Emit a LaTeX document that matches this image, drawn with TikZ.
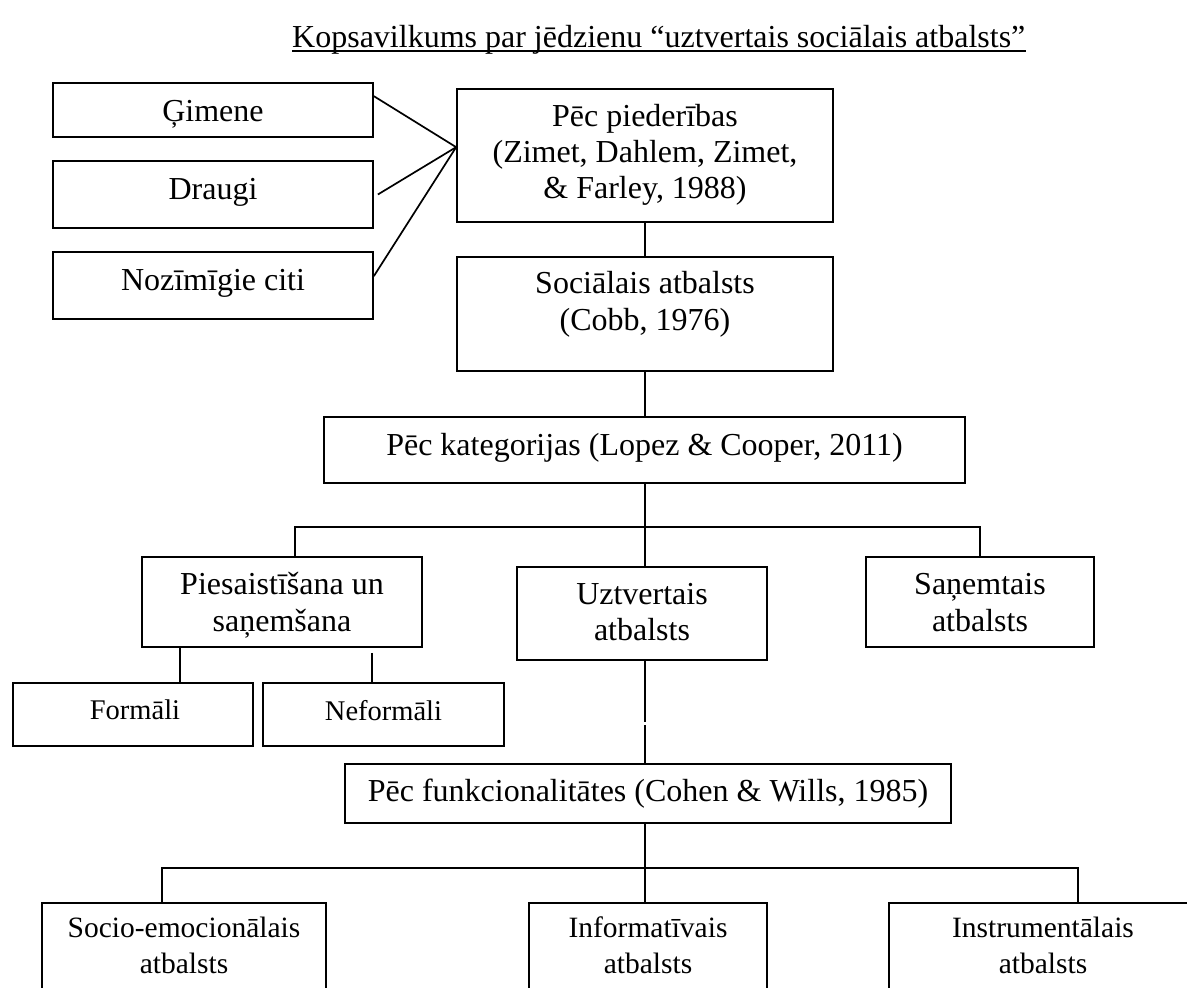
\documentclass[tikz,border=0pt]{standalone}
\usepackage{fontspec}
\setmainfont{Liberation Serif}
\usetikzlibrary{calc}
\begin{document}
\begin{tikzpicture}[x=1pt,y=-1pt,
  box/.style={draw, line width=1.7pt, inner sep=0pt, rectangle},
  link/.style={line width=1.7pt},
  % multi-line texts are placed by the baseline of their last line
  txt/.style={inner sep=0pt, align=center, anchor=base,
    font=\fontsize{32}{36.5}\selectfont},
  smalltxt/.style={txt, font=\fontsize{29.5}{36}\selectfont},
  tinytxt/.style={txt, font=\fontsize{28.5}{34}\selectfont}]
\fill[white] (0,0) rectangle (1187,988);
\useasboundingbox (0,0) rectangle (1187,988);
\clip (0,0) rectangle (1187,988);

% heading
\node[txt, anchor=base west] (title) at (292,47)
  {Kopsavilkums par jēdzienu “uztvertais sociālais atbalsts”};
\draw[line width=1.5pt] ($(title.base west)+(0,4)$) -- ($(title.base east)+(0,4)$);

% boxes
\node[box, minimum width=320, minimum height=54]  (gim)   at (213,110) {};
\node[box, minimum width=320, minimum height=67]  (dra)   at (213,194.5) {};
\node[box, minimum width=320, minimum height=67]  (noz)   at (213,285.5) {};
\node[box, minimum width=376, minimum height=133] (pied)  at (645,155.5) {};
\node[box, minimum width=376, minimum height=114] (soc)   at (645,314) {};
\node[box, minimum width=641, minimum height=66]  (kat)   at (644.5,450) {};
\node[box, minimum width=280, minimum height=90]  (pies)  at (282,602) {};
\node[box, minimum width=250, minimum height=93]  (uzt)   at (642,613.5) {};
\node[box, minimum width=228, minimum height=90]  (san)   at (980,602) {};
\node[box, minimum width=240, minimum height=63]  (form)  at (133,714.5) {};
\node[box, minimum width=241, minimum height=63]  (nef)   at (383.5,714.5) {};
\node[box, minimum width=606, minimum height=59]  (pf)    at (648,793.5) {};
\node[box, minimum width=284, minimum height=117] (socio) at (184,961.5) {};
\node[box, minimum width=238, minimum height=117] (info)  at (648,961.5) {};
\node[box, minimum width=308, minimum height=117] (instr) at (1043,961.5) {};

% texts
\node[txt] (gim-t) at (213,121) {Ģimene};
\node[txt] (dra-t) at (213,199.3) {Draugi};
\node[txt] (noz-t) at (213,290.7) {Nozīmīgie citi};
\node[txt, font=\fontsize{32}{36}\selectfont] (pied-t) at (645,198.5)
  {Pēc piederības\\(Zimet, Dahlem, Zimet,\\\& Farley, 1988)};
\node[txt, font=\fontsize{32}{37}\selectfont] (soc-t) at (645,330.5)
  {Sociālais atbalsts\\(Cobb, 1976)};
\node[txt] (kat-t) at (644.5,455) {Pēc kategorijas (Lopez \& Cooper, 2011)};
\node[txt, font=\fontsize{32}{37}\selectfont] (pies-t) at (282,631)
  {Piesaistīšana un\\saņemšana};
\node[txt] (uzt-t) at (642,640.5) {Uztvertais\\atbalsts};
\node[txt] (san-t) at (980,631) {Saņemtais\\atbalsts};
\node[tinytxt] (form-t) at (135,719.3) {Formāli};
\node[tinytxt] (nef-t) at (383.5,720.7) {Neformāli};
\node[txt] (pf-t) at (648,801) {Pēc funkcionalitātes (Cohen \& Wills, 1985)};
\node[smalltxt] (socio-t) at (184,973) {Socio-emocionālais\\atbalsts};
\node[smalltxt] (info-t) at (648,973) {Informatīvais\\atbalsts};
\node[smalltxt] (instr-t) at (1043,973) {Instrumentālais\\atbalsts};

% membership links
\coordinate (conv) at ($(pied.north west)+(0,59)$);
\draw[link] ($(gim.north east)+(0,14)$) -- (conv);
\draw[link] ($(dra.east)+(4,0)$) -- (conv);
\draw[link] ($(noz.north east)+(0,25)$) -- (conv);

% main axis
\coordinate (axis) at (645,0);
\draw[link] (axis |- pied.south) -- (axis |- soc.north);
\draw[link] (axis |- soc.south) -- (axis |- kat.north);
\draw[link] (axis |- kat.south) -- (axis |- uzt.north);

% category branches
\coordinate (busA) at ($(pies.north west)+(154,-29)$);
\draw[link] (busA |- pies.north) -- (busA) -- (busA -| san.north) -- (san.north);

\coordinate (fA) at ($(pies.south west)+(39,0)$);
\draw[link] (fA) -- (fA |- form.north);
\coordinate (nA) at ($(pies.south west)+(231,5)$);
\draw[link] (nA) -- (nA |- nef.north);

% perceived support to functionality
\coordinate (gap1) at (645,722);
\coordinate (gap2) at (645,725);
\draw[link] (axis |- uzt.south) -- (gap1);
\draw[link] (gap2) -- (axis |- pf.north);

% functionality branches
\draw[link] (axis |- pf.south) -- (axis |- info.north);
\coordinate (busB) at ($(socio.north west)+(121,-34)$);
\coordinate (busC) at ($(instr.north west)+(190,-34)$);
\draw[link] (busB |- socio.north) -- (busB) -- (busC) -- (busC |- instr.north);
\end{tikzpicture}
\end{document}
